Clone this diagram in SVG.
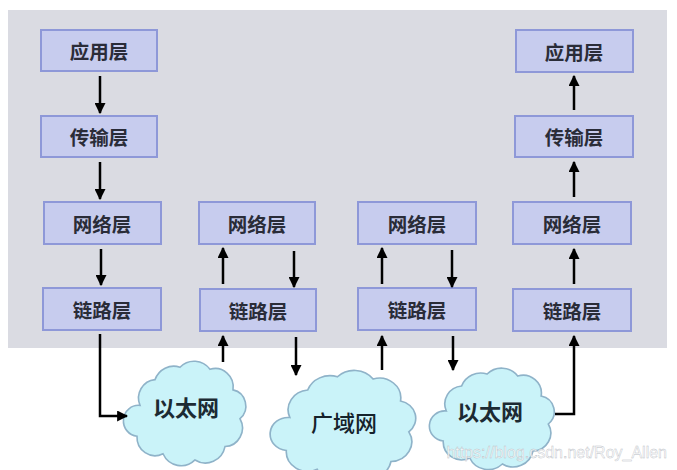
<svg xmlns="http://www.w3.org/2000/svg" width="677" height="470" viewBox="0 0 677 470">
  <defs>
    <style>
      .box rect { fill: #c7ccee; stroke: #8e98d8; stroke-width: 2; }
      .box text { font-family: "Noto Sans CJK SC", "Noto Sans", sans-serif; font-weight: bold; font-size: 19.5px; fill: #2a2c38; text-anchor: middle; dominant-baseline: central; }
      .cloud text { font-family: "Noto Sans CJK SC", "Noto Sans", sans-serif; font-weight: bold; font-size: 22px; fill: #1c2a33; text-anchor: middle; dominant-baseline: central; }
      .conn path { fill: none; stroke: #000; stroke-width: 2.5; marker-end: url(#ah); }
    </style>
    <marker id="ah" viewBox="0 0 10 10" refX="9" refY="5" markerWidth="11" markerHeight="11" markerUnits="userSpaceOnUse" orient="auto">
      <path d="M0,0 L10,5 L0,10 z" fill="#000"/>
    </marker>
    <path id="cloudShape" d="M15 45 A18 18 0 0 1 30 20 A20 20 0 0 1 55 8 A20 20 0 0 1 85 10 A18 18 0 0 1 108 30 A16 16 0 0 1 115 58 A18 18 0 0 1 100 85 A20 20 0 0 1 70 98 A20 20 0 0 1 38 92 A18 18 0 0 1 12 75 A15 15 0 0 1 15 45 Z"/>
  </defs>

  <rect x="0" y="0" width="677" height="470" fill="#ffffff"/>
  <rect id="background" x="8" y="10" width="659" height="338" fill="#dadbe2"/>

  <g id="app1" class="box"><rect x="41" y="30" width="116" height="41"/><text x="99" y="50.5">应用层</text></g>
  <g id="trans1" class="box"><rect x="41" y="116" width="116" height="41"/><text x="99" y="136.5">传输层</text></g>
  <g id="net1" class="box"><rect x="44" y="202" width="117" height="42"/><text x="102" y="223">网络层</text></g>
  <g id="link1" class="box"><rect x="43" y="288" width="118" height="42"/><text x="102" y="309">链路层</text></g>

  <g id="net2" class="box"><rect x="199" y="202" width="116" height="42"/><text x="257" y="223">网络层</text></g>
  <g id="link2" class="box"><rect x="200" y="289" width="116" height="42"/><text x="258" y="310">链路层</text></g>

  <g id="net3" class="box"><rect x="358" y="202" width="118" height="42"/><text x="417" y="223">网络层</text></g>
  <g id="link3" class="box"><rect x="358" y="288" width="118" height="42"/><text x="417" y="309">链路层</text></g>

  <g id="app4" class="box"><rect x="516" y="30" width="117" height="42"/><text x="574" y="51">应用层</text></g>
  <g id="trans4" class="box"><rect x="515" y="116" width="118" height="41"/><text x="574" y="136.5">传输层</text></g>
  <g id="net4" class="box"><rect x="513" y="202" width="118" height="42"/><text x="572" y="223">网络层</text></g>
  <g id="link4" class="box"><rect x="513" y="289" width="118" height="42"/><text x="572" y="310">链路层</text></g>

  <g id="ethernet1" class="cloud">
    <use href="#cloudShape" transform="translate(125,359) scale(1.0,1.03)" style="fill:#caf3f9;stroke:#8fb3c9;stroke-width:1.6"/>
    <text x="186" y="406">以太网</text>
  </g>
  <g id="wan" class="cloud">
    <use href="#cloudShape" transform="translate(272,368) scale(1.19,1.1)" style="fill:#caf3f9;stroke:#8fb3c9;stroke-width:1.4"/>
    <text x="344" y="421" style="font-weight:500;fill:#15222b">广域网</text>
  </g>
  <g id="ethernet2" class="cloud">
    <use href="#cloudShape" transform="translate(431,366) scale(1.02,1.0)" style="fill:#caf3f9;stroke:#8fb3c9;stroke-width:1.6"/>
    <text x="490" y="410">以太网</text>
  </g>

  <g id="connectors" class="conn">
    <path d="M100,76 V113"/>
    <path d="M100,162 V199"/>
    <path d="M101,249 V285"/>
    <path d="M100,334 V416 H127"/>

    <path d="M223,284 V248"/>
    <path d="M294,251 V287"/>
    <path d="M223,362 V336"/>
    <path d="M296,337 V375"/>

    <path d="M382,284 V248"/>
    <path d="M452,250 V287"/>
    <path d="M382,370 V336"/>
    <path d="M453,336 V370"/>

    <path d="M574,110 V76"/>
    <path d="M574,197 V162"/>
    <path d="M574,284 V249"/>
    <path d="M555,414 H574 V336"/>
  </g>

  <text id="watermark" x="667" y="458" text-anchor="end" font-family="Liberation Sans, Arial, sans-serif" font-size="16" fill="#ffffff" fill-opacity="0.85" stroke="#b8bcc4" stroke-width="0.4">https://blog.csdn.net/Roy_Allen</text>
</svg>
